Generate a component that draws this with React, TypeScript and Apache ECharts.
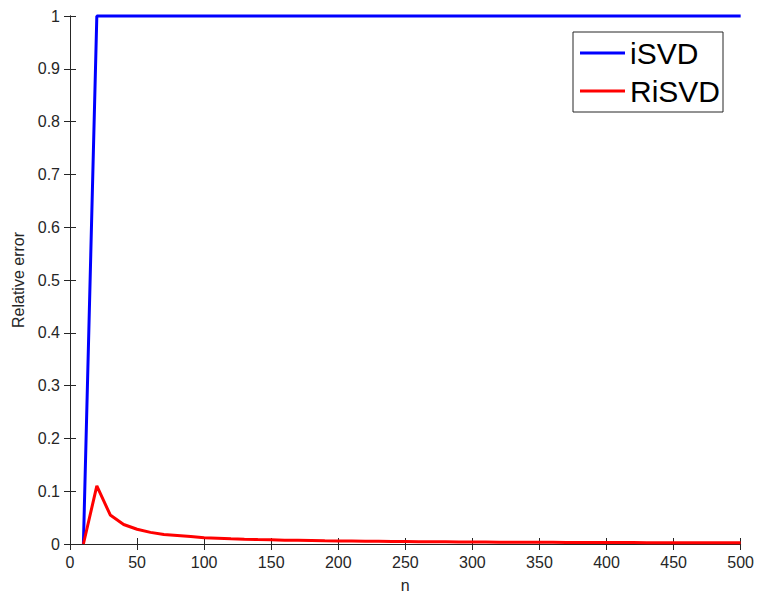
import React, { useEffect, useRef } from "react";
import * as echarts from "echarts";

const nValues = [10, 20, 30, 40, 50, 60, 70, 80, 90, 100, 110, 120, 130, 140, 150, 160, 170, 180, 190, 200, 210, 220, 230, 240, 250, 260, 270, 280, 290, 300, 310, 320, 330, 340, 350, 360, 370, 380, 390, 400, 410, 420, 430, 440, 450, 460, 470, 480, 490, 500];
const iSVD = [0, 1, 1, 1, 1, 1, 1, 1, 1, 1, 1, 1, 1, 1, 1, 1, 1, 1, 1, 1, 1, 1, 1, 1, 1, 1, 1, 1, 1, 1, 1, 1, 1, 1, 1, 1, 1, 1, 1, 1, 1, 1, 1, 1, 1, 1, 1, 1, 1, 1];
const RiSVD = [0, 0.110, 0.055, 0.037, 0.028, 0.022, 0.018, 0.016, 0.014, 0.012, 0.011, 0.010, 0.0092, 0.0085, 0.0079, 0.0073, 0.0069, 0.0065, 0.0061, 0.0058, 0.0055, 0.0052, 0.0050, 0.0048, 0.0046, 0.0044, 0.0042, 0.0041, 0.0039, 0.0038, 0.0037, 0.0035, 0.0034, 0.0033, 0.0032, 0.0031, 0.0030, 0.0030, 0.0029, 0.0028, 0.0027, 0.0027, 0.0026, 0.0025, 0.0025, 0.0024, 0.0024, 0.0023, 0.0023, 0.0022];

const seriesNames = ["iSVD", "RiSVD"];
const xAxisName = "n";
const yAxisName = "Relative error";

const FONT = "Liberation Sans, Arial, Helvetica, sans-serif";
const AX = "#262626";

export default function App() {
  const ref = useRef<HTMLDivElement>(null);
  useEffect(() => {
    if (!ref.current) return;
    document.body.style.margin = "0";
    document.body.style.overflow = "hidden";
    const chart = echarts.init(ref.current, null, { renderer: "svg" });
    const axisLine = { show: true, lineStyle: { color: AX, width: 1 } };
    const tick = { show: true, inside: true, length: 6, lineStyle: { color: AX, width: 1 } };
    chart.setOption({
      animation: false,
      backgroundColor: "#ffffff",
      textStyle: { fontFamily: FONT },
      grid: { left: 70, right: 16, top: 16, bottom: 52, containLabel: false },
      legend: {
        orient: "vertical",
        left: 573,
        top: 32,
        data: seriesNames,
        icon: "rect",
        itemWidth: 45,
        itemHeight: 3,
        itemGap: 8,
        padding: [6, 3, 6, 7],
        borderColor: AX,
        borderWidth: 1,
        backgroundColor: "#ffffff",
        textStyle: { fontSize: 30, color: "#000", fontFamily: FONT },
      },
      xAxis: [
        {
          type: "value", min: 0, max: 500, interval: 50,
          name: xAxisName, nameLocation: "middle", nameGap: 33,
          nameTextStyle: { fontSize: 16, color: AX, fontFamily: FONT },
          axisLine, axisTick: tick,
          axisLabel: { fontSize: 16, color: AX, margin: 10, fontFamily: FONT },
          splitLine: { show: false },
        },
        {
          type: "value", min: 0, max: 500, interval: 50, position: "top",
          axisLine, axisTick: tick, axisLabel: { show: false }, splitLine: { show: false },
        },
      ],
      yAxis: [
        {
          type: "value", min: 0, max: 1, interval: 0.1,
          name: yAxisName, nameLocation: "middle", nameGap: 42,
          nameTextStyle: { fontSize: 16, color: AX, fontFamily: FONT },
          axisLine, axisTick: tick,
          axisLabel: { fontSize: 16, color: AX, margin: 10, fontFamily: FONT },
          splitLine: { show: false },
        },
        {
          type: "value", min: 0, max: 1, interval: 0.1, position: "right",
          axisLine, axisTick: tick, axisLabel: { show: false }, splitLine: { show: false },
        },
      ],
      series: [
        {
          name: seriesNames[0], type: "line", showSymbol: false, clip: false,
          data: nValues.map((n, i) => [n, iSVD[i]]),
          lineStyle: { color: "#0000ff", width: 3 }, itemStyle: { color: "#0000ff" },
        },
        {
          name: seriesNames[1], type: "line", showSymbol: false, clip: false,
          data: nValues.map((n, i) => [n, RiSVD[i]]),
          lineStyle: { color: "#ff0000", width: 3 }, itemStyle: { color: "#ff0000" },
        },
      ],
    });
    return () => chart.dispose();
  }, []);
  return <div ref={ref} style={{ width: 757, height: 598 }} />;
}
